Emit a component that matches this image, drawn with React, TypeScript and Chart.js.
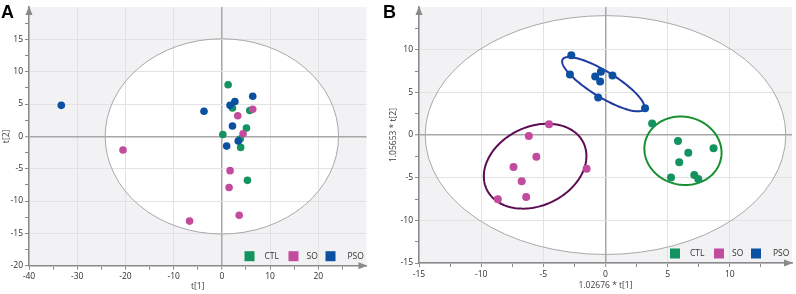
import React, { useEffect, useRef } from "react";
import { Chart, registerables } from "chart.js";
Chart.register(...registerables);

const FONT = "'Open Sans', 'Noto Sans', sans-serif";

const groups = ["CTL", "SO", "PSO"];
const groupColors = ["#13935f", "#c24b9d", "#0c50a2"];

// Panel A: t[1], t[2] scores
const ctlA_t1 = [1.3, 2.2, 5.8, 5.1, 0.2, 3.8, 3.9, 5.3];
const ctlA_t2 = [8.0, 4.4, 4.0, 1.3, 0.3, -0.4, -1.7, -6.8];
const soA_t1 = [-20.5, 3.3, 6.4, 4.4, 1.7, 1.5, -6.7, 3.6];
const soA_t2 = [-2.1, 3.2, 4.2, 0.4, -5.3, -7.9, -13.1, -12.2];
const psoA_t1 = [-33.3, -3.7, 1.7, 2.7, 6.4, 2.2, 3.4, 1.0];
const psoA_t2 = [4.8, 3.9, 4.8, 5.4, 6.2, 1.6, -0.7, -1.5];

// Panel B: 1.02676*t[1], 1.05653*t[2]
const ctlB_x = [3.75, 5.83, 6.66, 8.69, 5.93, 5.27, 7.14, 7.46];
const ctlB_y = [1.34, -0.69, -2.07, -1.54, -3.19, -4.99, -4.68, -5.14];
const soB_x = [-4.54, -6.17, -5.56, -7.4, -6.74, -6.38, -8.66, -1.52];
const soB_y = [1.27, -0.12, -2.53, -3.76, -5.41, -7.25, -7.52, -3.96];
const psoB_x = [-2.75, -2.86, -0.83, -0.37, -0.43, 0.56, -0.59, 3.18];
const psoB_y = [9.36, 7.09, 6.86, 7.43, 6.28, 6.97, 4.41, 3.14];

// Hotelling ellipses (semi-axes, data units)
const outerEllipseA = [24.2, 15.1];
const outerEllipseB = [14.5, 14.0];

// Group confidence ellipses in panel B (CTL, SO, PSO): centre, conjugate half-axes in data units
const groupEllipseCenters = [[6.23, -1.84], [-5.66, -3.65], [-0.18, 5.96]];
const groupEllipseMajor = [[3.02, -1.16], [3.86, 2.82], [3.26, -2.92]];
const groupEllipseMinor = [[-0.72, -3.84], [1.46, -4.1], [-0.55, -1.27]];
const groupEllipseColors = ["#17902f", "#5e0c52", "#1f3aa0"];

const legendSquareOffsets = [-122, -78, -41];
const legendTextOffsets = [-102, -60, -19];

function pairs(xs: number[], ys: number[]) {
  return xs.map((x, i) => ({ x, y: ys[i] }));
}

const isMult = (v: number, m: number) => {
  const r = Math.abs(v / m - Math.round(v / m));
  return r < 1e-6;
};

function axis(min: number, max: number, step: number, major: number, title: string, titlePad: any, isX: boolean, fit: number) {
  return {
    type: "linear",
    min,
    max,
    ticks: {
      stepSize: step,
      autoSkip: false,
      maxRotation: 0,
      color: "#2e2e2e",
      font: { family: FONT, size: 8.5 },
      padding: 2,
      callback: (v: number) => (v >= max - 1e-9 ? null : isMult(v, major) ? String(v) : ""),
    },
    grid: {
      color: (c: any) => {
        const v = c.tick ? c.tick.value : undefined;
        if (v === undefined) return "rgba(0,0,0,0)";
        if (Math.abs(v) < 1e-9) return "#a8a8a8";
        return isMult(v, major) ? "#e2e2e2" : "rgba(0,0,0,0)";
      },
      lineWidth: (c: any) => (c.tick && Math.abs(c.tick.value) < 1e-9 ? 1.5 : 1),
      tickColor: "#8a8a8a",
      tickLength: 4,
      tickWidth: 1,
    },
    border: { color: "#8a8a8a", width: 1.5 },
    title: {
      display: true,
      text: title,
      color: "#3a3a3a",
      font: { family: FONT, size: 8.5 },
      padding: titlePad,
    },
    afterFit: (s: any) => {
      if (isX) s.height = fit;
      else s.width = fit;
    },
  };
}

function makePlugin(spec: any) {
  return {
    id: "pcaDecor",
    beforeDraw(chart: any) {
      const { ctx, chartArea: a } = chart;
      const x = chart.scales.x, y = chart.scales.y;
      ctx.save();
      ctx.fillStyle = "#f2f1f3";
      ctx.fillRect(a.left, a.top, a.right - a.left, a.bottom - a.top);
      const cx = x.getPixelForValue(0), cy = y.getPixelForValue(0);
      const rx = Math.abs(x.getPixelForValue(spec.outer[0]) - cx);
      const ry = Math.abs(y.getPixelForValue(spec.outer[1]) - cy);
      ctx.beginPath();
      ctx.ellipse(cx, cy, rx, ry, 0, 0, Math.PI * 2);
      ctx.fillStyle = "#ffffff";
      ctx.fill();
      ctx.restore();
    },
    beforeDatasetsDraw(chart: any) {
      const { ctx } = chart;
      const x = chart.scales.x, y = chart.scales.y;
      ctx.save();
      const cx = x.getPixelForValue(0), cy = y.getPixelForValue(0);
      const rx = Math.abs(x.getPixelForValue(spec.outer[0]) - cx);
      const ry = Math.abs(y.getPixelForValue(spec.outer[1]) - cy);
      ctx.beginPath();
      ctx.ellipse(cx, cy, rx, ry, 0, 0, Math.PI * 2);
      ctx.strokeStyle = "#a9a9a9";
      ctx.lineWidth = 1;
      ctx.stroke();
      if (spec.groupEllipses) {
        const N = 160;
        for (let g = 0; g < groupEllipseCenters.length; g++) {
          const c = groupEllipseCenters[g], u = groupEllipseMajor[g], v = groupEllipseMinor[g];
          ctx.beginPath();
          for (let k = 0; k <= N; k++) {
            const t = (2 * Math.PI * k) / N;
            const dx = c[0] + u[0] * Math.cos(t) + v[0] * Math.sin(t);
            const dy = c[1] + u[1] * Math.cos(t) + v[1] * Math.sin(t);
            const px = x.getPixelForValue(dx), py = y.getPixelForValue(dy);
            if (k === 0) ctx.moveTo(px, py);
            else ctx.lineTo(px, py);
          }
          ctx.closePath();
          ctx.strokeStyle = groupEllipseColors[g];
          ctx.lineWidth = 2;
          ctx.stroke();
        }
      }
      ctx.restore();
    },
    afterDraw(chart: any) {
      const { ctx, chartArea: a } = chart;
      ctx.save();
      // axis arrows
      ctx.fillStyle = "#8a8a8a";
      ctx.beginPath();
      ctx.moveTo(a.right + 1, a.bottom);
      ctx.lineTo(a.right - 8, a.bottom - 3.5);
      ctx.lineTo(a.right - 8, a.bottom + 3.5);
      ctx.closePath();
      ctx.fill();
      ctx.beginPath();
      ctx.moveTo(a.left, a.top - 1);
      ctx.lineTo(a.left - 3.5, a.top + 8);
      ctx.lineTo(a.left + 3.5, a.top + 8);
      ctx.closePath();
      ctx.fill();
      // legend
      const ly = a.bottom - 14.5;
      ctx.font = `8.5px ${FONT}`;
      ctx.textBaseline = "middle";
      ctx.textAlign = "left";
      for (let i = 0; i < groups.length; i++) {
        ctx.fillStyle = groupColors[i];
        ctx.fillRect(a.right + legendSquareOffsets[i], ly, 10, 10);
        ctx.fillStyle = "#333";
        ctx.fillText(groups[i], a.right + legendTextOffsets[i], ly + 5.5);
      }
      // panel letter
      ctx.fillStyle = "#000";
      ctx.font = "bold 18px 'Liberation Sans', Arial, sans-serif";
      ctx.textBaseline = "alphabetic";
      ctx.fillText(spec.letter, spec.letterX, 17.5);
      ctx.restore();
    },
  };
}

function buildChart(canvas: HTMLCanvasElement, spec: any) {
  const orders = [2, 1, 0];
  return new Chart(canvas, {
    type: "scatter",
    data: {
      datasets: spec.series.map((s: any, i: number) => ({
        label: groups[i],
        data: s,
        backgroundColor: groupColors[i],
        borderWidth: 0,
        pointRadius: spec.radius,
        order: orders[i],
      })),
    },
    options: {
      responsive: false,
      animation: false,
      events: [],
      layout: { padding: spec.padding },
      plugins: { legend: { display: false }, tooltip: { enabled: false } },
      scales: {
        x: axis(spec.xr[0], spec.xr[1], spec.xr[2], spec.xr[3], spec.xTitle, { top: 0, bottom: spec.xTitlePad }, true, spec.xHeight),
        y: axis(spec.yr[0], spec.yr[1], spec.yr[2], spec.yr[3], spec.yTitle, { top: spec.yTitlePad, bottom: 0 }, false, spec.yWidth),
      },
    } as any,
    plugins: [makePlugin(spec)],
  });
}

export default function App() {
  const refA = useRef<HTMLCanvasElement>(null);
  const refB = useRef<HTMLCanvasElement>(null);
  useEffect(() => {
    const a = buildChart(refA.current!, {
      letter: "A",
      letterX: 1,
      series: [pairs(ctlA_t1, ctlA_t2), pairs(soA_t1, soA_t2), pairs(psoA_t1, psoA_t2)],
      radius: 3.8,
      xr: [-40, 30, 5, 10],
      yr: [-20, 20, 2.5, 5],
      xTitle: "t[1]",
      yTitle: "t[2]",
      xTitlePad: 2.2,
      yTitlePad: 1.0,
      xHeight: 28.3,
      yWidth: 29,
      padding: { top: 4, right: 16.5, left: 0, bottom: 0 },
      outer: outerEllipseA,
      groupEllipses: false,
    });
    const b = buildChart(refB.current!, {
      letter: "B",
      letterX: 0,
      series: [pairs(ctlB_x, ctlB_y), pairs(soB_x, soB_y), pairs(psoB_x, psoB_y)],
      radius: 4,
      xr: [-15, 15, 2.5, 5],
      yr: [-15, 15, 2.5, 5],
      xTitle: "1.02676 * t[1]",
      yTitle: "1.05653 * t[2]",
      xTitlePad: 3.2,
      yTitlePad: 5.2,
      xHeight: 31,
      yWidth: 36,
      padding: { top: 2.3, right: 3, left: 0, bottom: 0 },
      outer: outerEllipseB,
      groupEllipses: true,
    });
    return () => {
      a.destroy();
      b.destroy();
    };
  }, []);
  return (
    <div style={{ position: "fixed", left: 0, top: 0, width: 796, height: 294, background: "#fff" }}>
      <canvas ref={refA} width={383} height={294} style={{ position: "absolute", left: 0, top: 0, width: 383, height: 294 }} />
      <canvas ref={refB} width={413} height={294} style={{ position: "absolute", left: 383, top: 0, width: 413, height: 294 }} />
    </div>
  );
}
